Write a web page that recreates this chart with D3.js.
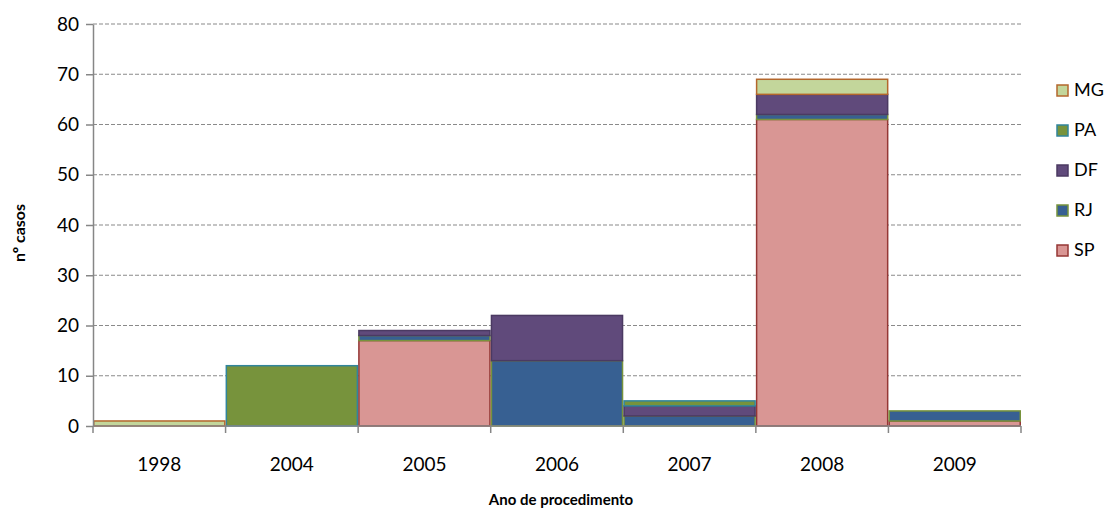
<!DOCTYPE html>
<html>
<head>
<meta charset="utf-8">
<script src="https://cdn.jsdelivr.net/npm/d3@7"></script>
<style>
  html, body { margin: 0; padding: 0; background: #fff; }
  svg { display: block; font-family: Lato, "Open Sans", sans-serif; }
</style>
</head>
<body>
<svg id="chart" width="1111" height="522"></svg>
<script>
// Procedures per year, by state
const years = ["1998", "2004", "2005", "2006", "2007", "2008", "2009"];
const SP = [0, 0, 17, 0, 0, 61, 1];
const RJ = [0, 0, 1, 13, 2, 1, 2];
const DF = [0, 0, 1, 9, 2, 4, 0];
const PA = [0, 12, 0, 0, 1, 0, 0];
const MG = [1, 0, 0, 0, 0, 3, 0];
const yTicks = [0, 10, 20, 30, 40, 50, 60, 70, 80];

const seriesKeys = ["SP", "RJ", "DF", "PA", "MG"];
const seriesData = { SP, RJ, DF, PA, MG };
const fills = { SP: "#D99694", RJ: "#376092", DF: "#604A7B", PA: "#77933C", MG: "#C3D69B" };
const strokes = { SP: "#953735", RJ: "#77933C", DF: "#4B3A62", PA: "#31859C", MG: "#B4672C" };

const rows = years.map((yr, i) => {
  const r = { year: yr };
  seriesKeys.forEach(k => r[k] = seriesData[k][i]);
  return r;
});

const svg = d3.select("#chart");
const plotLeft = 93, plotRight = 1021, plotTop = 24, plotBottom = 426;

const x = d3.scaleBand().domain(years).range([plotLeft, plotRight]).paddingInner(0).paddingOuter(0);
const y = d3.scaleLinear().domain([0, 80]).range([plotBottom, plotTop]);

// horizontal dashed gridlines
svg.append("g")
  .selectAll("line")
  .data(yTicks.filter(t => t > 0))
  .join("line")
  .attr("x1", plotLeft).attr("x2", plotRight)
  .attr("y1", d => y(d)).attr("y2", d => y(d))
  .attr("stroke", "#8a8a8a")
  .attr("stroke-width", 1.2)
  .attr("stroke-dasharray", "4,2");

// stacked bars
const stacked = d3.stack().keys(seriesKeys)(rows);
svg.append("g")
  .selectAll("g")
  .data(stacked)
  .join("g")
  .attr("fill", d => fills[d.key])
  .attr("stroke", d => strokes[d.key])
  .attr("stroke-width", 1.5)
  .selectAll("rect")
  .data(d => d.filter(s => s[1] - s[0] > 0))
  .join("rect")
  .attr("x", d => x(d.data.year) + 0.75)
  .attr("width", x.bandwidth() - 1.5)
  .attr("y", d => y(d[1]))
  .attr("height", d => y(d[0]) - y(d[1]));

// y axis
const yAxis = d3.axisLeft(y).tickValues(yTicks).tickSize(7).tickPadding(7).tickSizeOuter(0);
const gy = svg.append("g").attr("transform", `translate(${plotLeft},0)`).call(yAxis);
gy.select(".domain").attr("stroke", "#868686").attr("stroke-width", 1.5);
gy.selectAll(".tick line").attr("stroke", "#868686").attr("stroke-width", 1.5);
gy.selectAll(".tick text").attr("font-size", 19).attr("fill", "#000").attr("font-family", "Lato, sans-serif");

// x axis with ticks at category boundaries
const xAxisG = svg.append("g").attr("transform", `translate(0,${plotBottom})`);
xAxisG.append("line")
  .attr("x1", plotLeft).attr("x2", plotRight)
  .attr("stroke", "#868686").attr("stroke-width", 1.5);
const bounds = years.map(d => x(d)).concat([plotRight]);
xAxisG.selectAll("line.tk")
  .data(bounds)
  .join("line")
  .attr("class", "tk")
  .attr("x1", d => d).attr("x2", d => d)
  .attr("y1", 0).attr("y2", 7)
  .attr("stroke", "#868686").attr("stroke-width", 1.5);
xAxisG.selectAll("text")
  .data(years)
  .join("text")
  .attr("x", d => x(d) + x.bandwidth() / 2)
  .attr("y", 45)
  .attr("text-anchor", "middle")
  .attr("font-size", 19)
  .attr("fill", "#000")
  .text(d => d);

// axis titles
svg.append("text")
  .attr("x", (plotLeft + plotRight) / 2 + 4)
  .attr("y", 505)
  .attr("text-anchor", "middle")
  .attr("font-size", 15)
  .attr("font-weight", "bold")
  .text("Ano de procedimento");

svg.append("text")
  .attr("transform", `translate(25,${(plotTop + plotBottom) / 2 + 8}) rotate(-90)`)
  .attr("text-anchor", "middle")
  .attr("font-size", 16)
  .attr("font-weight", "bold")
  .text("nº casos");

// legend
const legendKeys = seriesKeys.slice().reverse();
const lg = svg.append("g")
  .selectAll("g")
  .data(legendKeys)
  .join("g")
  .attr("transform", (d, i) => `translate(1057,${85 + i * 40})`);
lg.append("rect")
  .attr("width", 11).attr("height", 11)
  .attr("fill", d => fills[d])
  .attr("stroke", d => strokes[d])
  .attr("stroke-width", 1.5);
lg.append("text")
  .attr("x", 17).attr("y", 11)
  .attr("font-size", 18)
  .attr("fill", "#000")
  .text(d => d);
</script>
</body>
</html>
